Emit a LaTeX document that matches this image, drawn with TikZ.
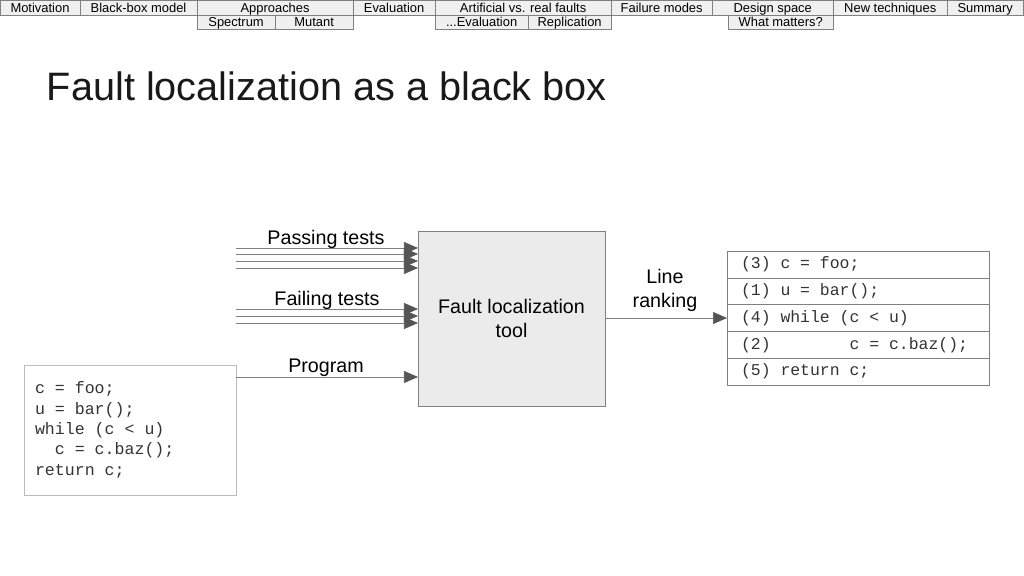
\documentclass[tikz,border=0pt]{standalone}
\usepackage{fontspec}
\setmainfont{Liberation Sans}
\setmonofont{Liberation Mono}
\usetikzlibrary{arrows.meta, positioning}
\definecolor{navfill}{HTML}{F0F0F0}
\definecolor{navline}{HTML}{808080}
\definecolor{toolfill}{HTML}{EBEBEB}
\definecolor{linegray}{HTML}{7F7F7F}
\definecolor{headgray}{HTML}{555555}
\definecolor{codegray}{HTML}{333333}
\definecolor{boxgray}{HTML}{BBBBBB}
\tikzset{
    navbox/.style={rectangle, draw=navline, fill=navfill, minimum height=0.375cm, inner sep=0pt, outer sep=0pt, text height=7.8pt, text depth=1pt, anchor=north west, font=\fontsize{9.2}{11}\selectfont},
    subbox/.style={navbox, minimum height=0.35cm},
    toolbox/.style={rectangle, draw=navline, fill=toolfill, outer sep=0pt, align=center, font=\fontsize{14}{17}\selectfont},
    codebox/.style={rectangle, draw=boxgray, outer sep=0pt, anchor=north west, inner xsep=0.275cm, text width=4.75cm, align=flush left, text=codegray, font=\ttfamily\fontsize{11.8}{14.5}\selectfont},
    rankrow/.style={rectangle, draw=navline, outer sep=0pt, minimum width=6.55cm, minimum height=0.67cm, inner xsep=0.35cm, inner ysep=0pt, text width=5.85cm, align=flush left, text=codegray, font=\ttfamily\fontsize{11.7}{14}\selectfont},
    inlabel/.style={font=\fontsize{14}{17}\selectfont, align=center},
    feed/.style={draw=linegray, -{Triangle[length=0.35cm, width=0.3cm, color=headgray]}}
}

\begin{document}
\begin{tikzpicture}[x=0.025cm, y=-0.025cm]
\useasboundingbox (0,0) rectangle (1024,576);

% Navigation bar
\node[navbox, minimum width=2cm] (mot) at (0,0) {Motivation};
\node[navbox, minimum width=2.925cm, right=0pt of mot] (bbm) {Black-box model};
\node[navbox, minimum width=3.9cm, right=0pt of bbm] (appr) {Approaches};
\node[navbox, minimum width=2.05cm, right=0pt of appr] (evl) {Evaluation};
\node[navbox, minimum width=4.4cm, right=0pt of evl] (avr) {Artificial vs. real faults};
\node[navbox, minimum width=2.525cm, right=0pt of avr] (fmod) {Failure modes};
\node[navbox, minimum width=3.025cm, right=0pt of fmod] (dsp) {Design space};
\node[navbox, minimum width=2.85cm, right=0pt of dsp] (newt) {New techniques};
\node[navbox, minimum width=1.9cm, right=0pt of newt] (summ) {Summary};

\node[subbox, minimum width=1.95cm] (spec) at (appr.south west) {Spectrum};
\node[subbox, minimum width=1.95cm, right=0pt of spec] (mut) {Mutant};
\node[subbox, minimum width=2.325cm] (aeval) at (avr.south west) {...Evaluation};
\node[subbox, minimum width=2.075cm, right=0pt of aeval] (repl) {Replication};
\node[subbox, minimum width=2.625cm, anchor=north east] (wm) at (dsp.south east) {What matters?};

% Title
\node[anchor=base west, text=black!90, font=\fontsize{28.2}{32}\selectfont] (title) at (42,101) {Fault localization as a black box};

% Tool and inputs
\node[toolbox, minimum width=4.675cm, minimum height=4.375cm] (tool) at (511.5,318.5) {Fault localization\\tool};

\node[codebox, minimum width=5.3cm, minimum height=3.25cm] (prog) at (24,365) {c = foo;\\u = bar();\\while (c < u)\\\phantom{xx}c = c.baz();\\return c;\\[12pt]};

\node[inlabel] (passlbl) at (326,239) {Passing tests};
\node[inlabel] (faillbl) at (327,300) {Failing tests};
\node[inlabel] (proglbl) at (326,368) {Program};

\foreach \y [count=\i] in {248,254,261,268} {
    \coordinate (pass\i) at (236,\y);
    \draw[feed] (pass\i) -- (pass\i -| tool.west);
}
\foreach \y [count=\i] in {309,316,323} {
    \coordinate (fail\i) at (236,\y);
    \draw[feed] (fail\i) -- (fail\i -| tool.west);
}
\coordinate (progin) at (236,377);
\draw[feed] (progin) -- (progin -| tool.west);

% Ranking
\node[rankrow, anchor=north west] (r1) at (727,251) {(3) c = foo;};
\node[rankrow, below=0pt of r1] (r2) {(1) u = bar();};
\node[rankrow, below=0pt of r2] (r3) {(4) while (c < u)};
\node[rankrow, below=0pt of r3] (r4) {(2)\phantom{xxxxxxxx}c = c.baz();};
\node[rankrow, below=0pt of r4] (r5) {(5) return c;};

\node[inlabel] (rklbl) at (665,290) {Line\\ranking};
\draw[feed] (tool.east |- r3) -- (r3.west);

\end{tikzpicture}
\end{document}
